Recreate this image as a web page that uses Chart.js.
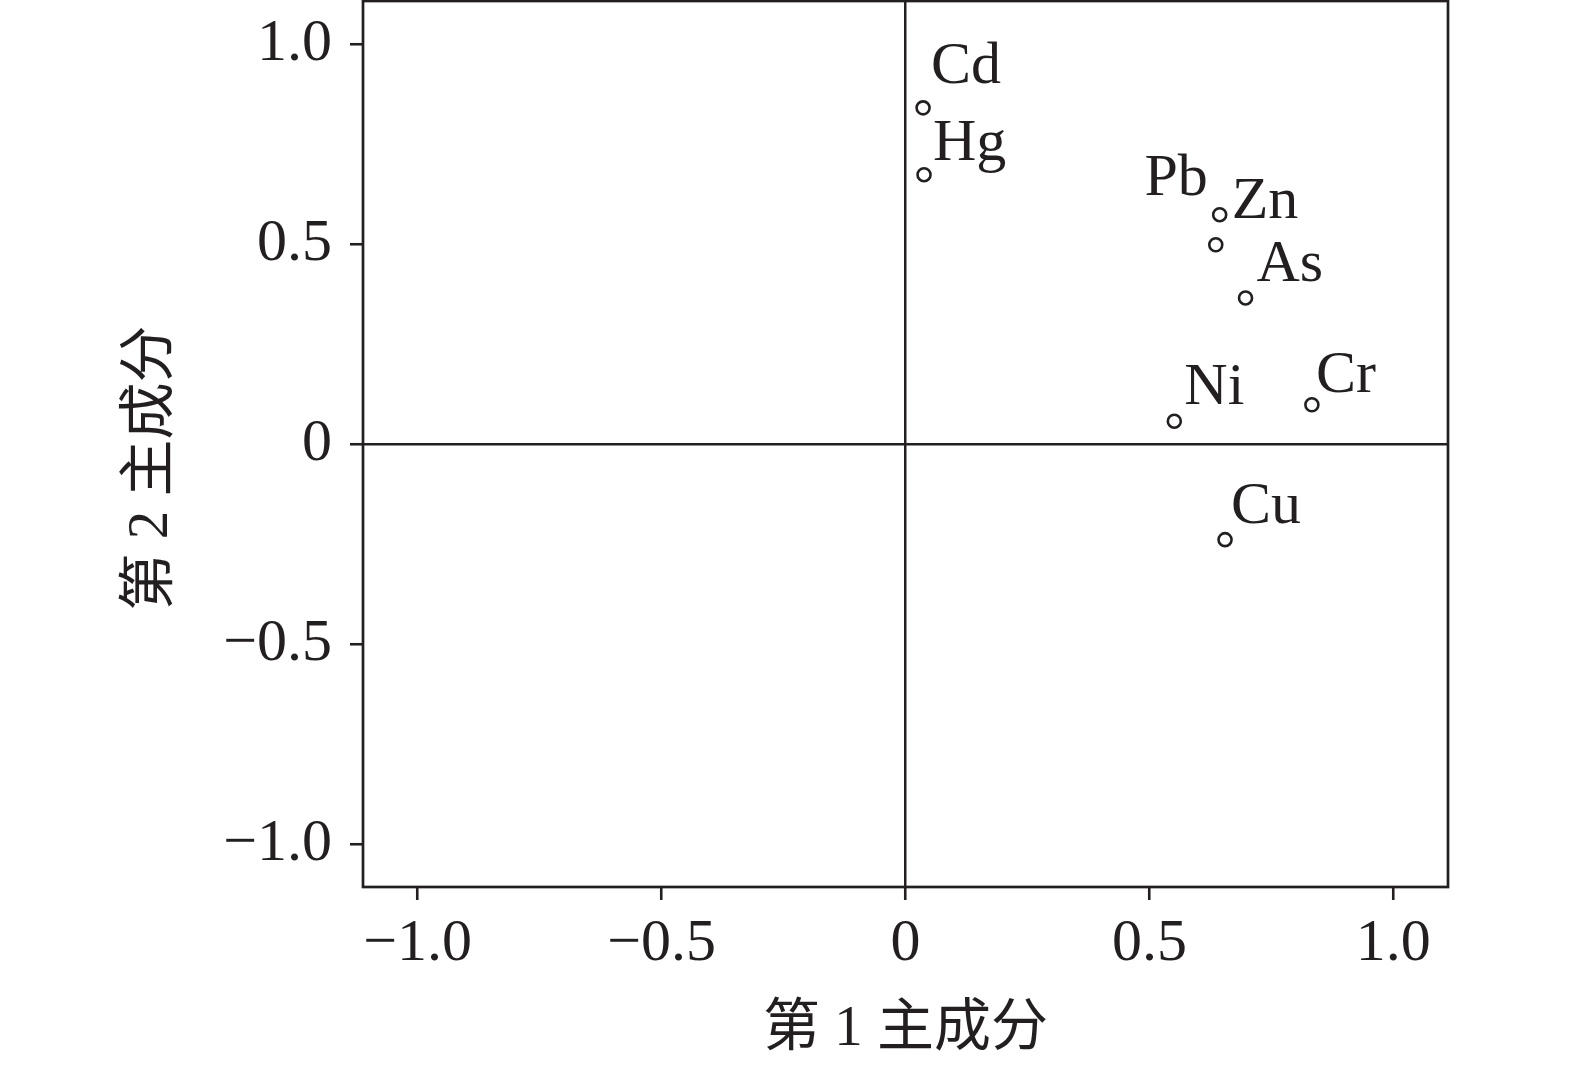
<!DOCTYPE html>
<html>
<head>
<meta charset="utf-8">
<script src="https://cdn.jsdelivr.net/npm/chart.js@4/dist/chart.umd.min.js"></script>
<style>
html,body{margin:0;padding:0;background:#fff;}
#wrap{width:1575px;height:1072px;}
</style>
</head>
<body>
<div id="wrap"><canvas id="c" width="1575" height="1072"></canvas></div>
<script>
// ---- data ----
const elements = ['Cd','Hg','Pb','Zn','As','Ni','Cr','Cu'];
const pc1 = [0.036, 0.038, 0.636, 0.644, 0.697, 0.551, 0.833, 0.655];
const pc2 = [0.840, 0.673, 0.498, 0.573, 0.365, 0.057, 0.098, -0.239];
const tickValues = [-1.0, -0.5, 0, 0.5, 1.0];
const xTitle = '第 1 主成分';
const yTitle = '第 2 主成分';

// ---- label placement (layout only) ----
const labelPlace = {
  Cd:{dx:8, dy:-25, align:'left'},
  Hg:{dx:9, dy:-15, align:'left'},
  Pb:{dx:-8, dy:-50, align:'right'},
  Zn:{dx:12, dy:3, align:'left'},
  As:{dx:11, dy:-17, align:'left'},
  Ni:{dx:10, dy:-17, align:'left'},
  Cr:{dx:4, dy:-13, align:'left'},
  Cu:{dx:6, dy:-17, align:'left'}
};

const INK = '#231f20';
const SERIF = '"Liberation Serif", "Times New Roman", serif';
const CJK = '"Liberation Serif", "Noto Sans CJK SC", serif';
const AX = 1.112, AY = 1.107;

const fmt = v => v === 0 ? '0' : (v < 0 ? '\u2212' : '') + Math.abs(v).toFixed(1);

const points = elements.map((e,i)=>({x:pc1[i], y:pc2[i]}));

const overlay = {
  id:'overlay',
  afterDatasetsDraw(chart){
    const ctx = chart.ctx, a = chart.chartArea;
    ctx.save();
    // frame
    ctx.strokeStyle = INK; ctx.lineWidth = 2.7;
    ctx.strokeRect(a.left, a.top, a.right-a.left, a.bottom-a.top);
    // point labels
    ctx.fillStyle = INK;
    ctx.font = '60px ' + SERIF;
    ctx.textBaseline = 'alphabetic';
    const meta = chart.getDatasetMeta(0);
    meta.data.forEach((pt,i)=>{
      const p = labelPlace[elements[i]];
      ctx.textAlign = p.align;
      ctx.fillText(elements[i], pt.x + p.dx, pt.y + p.dy);
    });
    // axis titles
    ctx.font = '57px ' + CJK;
    ctx.textAlign = 'center';
    ctx.textBaseline = 'middle';
    ctx.fillText(xTitle, (a.left+a.right)/2, 1030);
    ctx.translate(152, (a.top+a.bottom)/2 + 24);
    ctx.rotate(-Math.PI/2);
    ctx.fillText(yTitle, 0, 0);
    ctx.restore();
  }
};

const gridCfg = {
  color: c => (c.tick && c.tick.value === 0) ? INK : 'rgba(0,0,0,0)',
  lineWidth: 2.5,
  tickColor: INK,
  tickWidth: 2.6,
  tickLength: 13,
  drawOnChartArea: true
};

new Chart(document.getElementById('c'), {
  type:'scatter',
  data:{ datasets:[{
    data: points,
    pointRadius: 6.5,
    pointHoverRadius: 6.5,
    pointBorderWidth: 2.6,
    pointBackgroundColor:'#ffffff',
    pointBorderColor: INK
  }]},
  options:{
    responsive:false,
    animation:false,
    events:[],
    layout:{autoPadding:false, padding:{top:1, right:127, left:0, bottom:0}},
    plugins:{legend:{display:false}, tooltip:{enabled:false}},
    scales:{
      x:{
        type:'linear', min:-AX, max:AX,
        afterBuildTicks: s => { s.ticks = tickValues.map(v=>({value:v})); },
        afterFit: s => { s.height = 185; s.paddingLeft = 0; s.paddingRight = 0; },
        grid: gridCfg,
        border:{display:false},
        ticks:{ callback: v => fmt(v), color:INK, font:{family:SERIF, size:60}, padding:8, maxRotation:0, autoSkip:false }
      },
      y:{
        type:'linear', min:-AY, max:AY,
        afterBuildTicks: s => { s.ticks = tickValues.map(v=>({value:v})); },
        afterFit: s => { s.width = 363; s.paddingTop = 0; s.paddingBottom = 0; },
        grid: gridCfg,
        border:{display:false},
        ticks:{ callback: v => fmt(v), color:INK, font:{family:SERIF, size:60}, padding:18, autoSkip:false }
      }
    }
  },
  plugins:[overlay]
});
</script>
</body>
</html>
